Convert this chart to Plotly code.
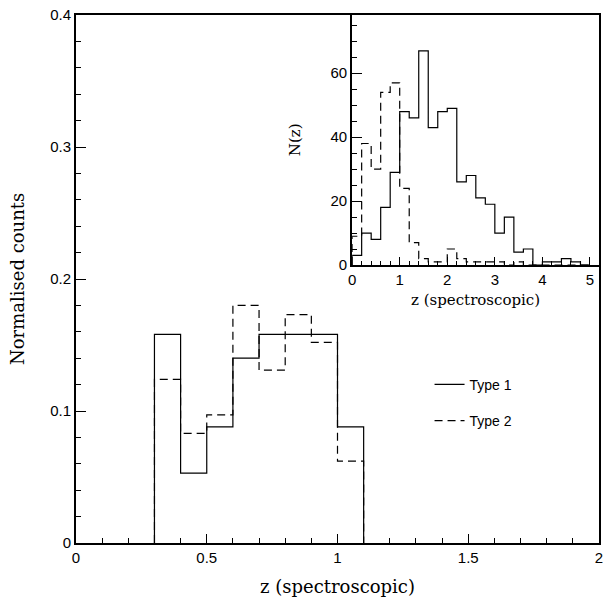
import numpy as np
import plotly.graph_objects as go

# ---------------- data ----------------
# main panel: normalised counts in bins of 0.1 from 0.3 to 1.1
main_edges = [0.3, 0.4, 0.5, 0.6, 0.7, 0.8, 0.9, 1.0, 1.1]
main_type1 = [0.158, 0.053, 0.088, 0.140, 0.158, 0.158, 0.158, 0.088]
main_type2 = [0.124, 0.083, 0.097, 0.180, 0.131, 0.173, 0.152, 0.062]

# inset: N(z) in bins of 0.2 from 0 to 5
inset_edges = [round(0.2 * i, 1) for i in range(26)]
inset_type1 = [3, 10, 8, 18, 29, 48, 46, 67, 43, 48, 49, 26, 28, 21, 19,
               10, 15, 4, 5, 0, 1, 1, 2, 1, 0]
inset_type2 = [9, 38, 30, 54, 57, 24, 7, 2, 1, 1, 5, 2, 1, 1, 1,
               1, 0, 1, 0, 0, 0, 0, 0, 0, 0]

legend_names = ["Type 1", "Type 2"]
x_title = "z (spectroscopic)"
y_title = "Normalised counts"
inset_y_title = "N(z)"


def steps(edges, vals):
    xs, ys = [edges[0]], [0]
    for i, v in enumerate(vals):
        xs += [edges[i], edges[i + 1]]
        ys += [v, v]
    xs.append(edges[-1])
    ys.append(0)
    return xs, ys


SANS = "Liberation Sans"
SERIF = "DejaVu Serif"
DASH = "8px,5px"

fig = go.Figure()

# main histograms
for vals, name, dash in [(main_type1, legend_names[0], "solid"),
                         (main_type2, legend_names[1], DASH)]:
    xs, ys = steps(main_edges, vals)
    fig.add_trace(go.Scatter(x=xs, y=ys, mode="lines", name=name,
                             legendgroup=name,
                             line=dict(color="black", width=1.2, dash=dash),
                             hoverinfo="skip"))

# inset histograms
for vals, name, dash in [(inset_type1, legend_names[0], "solid"),
                         (inset_type2, legend_names[1], DASH)]:
    xs, ys = steps(inset_edges, vals)
    fig.add_trace(go.Scatter(x=xs, y=ys, mode="lines", name=name,
                             showlegend=False, xaxis="x2", yaxis="y2",
                             line=dict(color="black", width=1.2, dash=dash),
                             hoverinfo="skip"))

axis_common = dict(showgrid=False, zeroline=False, showline=True,
                   linecolor="black", linewidth=2, mirror=True,
                   ticks="inside", tickcolor="black", tickwidth=1,
                   tickfont=dict(family=SANS, size=15, color="black"))

fig.update_layout(
    width=608, height=597,
    margin=dict(l=76, r=5, t=15, b=54),
    paper_bgcolor="white", plot_bgcolor="white",
    xaxis=dict(range=[0, 2], tick0=0, dtick=0.5, ticklen=9,
               minor=dict(dtick=0.1, ticks="inside", ticklen=5,
                          tickcolor="black", tickwidth=1),
               **axis_common),
    yaxis=dict(range=[0, 0.4], tick0=0, dtick=0.1, ticklen=10,
               minor=dict(dtick=0.02, ticks="inside", ticklen=5,
                          tickcolor="black", tickwidth=1),
               **axis_common),
    xaxis2=dict(domain=[0.528, 1.0], anchor="y2", range=[0, 5.19],
                tick0=0, dtick=1, ticklen=8,
                minor=dict(dtick=0.2, ticks="inside", ticklen=4,
                           tickcolor="black", tickwidth=1),
                **axis_common),
    yaxis2=dict(domain=[0.5265, 1.0], anchor="x2", range=[0, 78.2],
                tick0=0, dtick=20, ticklen=10,
                minor=dict(dtick=5, ticks="inside", ticklen=5,
                           tickcolor="black", tickwidth=1),
                **axis_common),
    showlegend=True,
    legend=dict(x=0.676, y=0.33, xanchor="left", yanchor="top",
                bgcolor="rgba(0,0,0,0)", borderwidth=0,
                tracegroupgap=15,
                font=dict(family=SANS, size=14, color="black")),
    annotations=[
        dict(text=x_title, xref="paper", yref="paper", x=0.5, y=0,
             xanchor="center", yanchor="middle", yshift=-43,
             showarrow=False, font=dict(family=SERIF, size=18, color="black")),
        dict(text=y_title, xref="paper", yref="paper", x=0, y=0.5,
             xanchor="center", yanchor="middle", xshift=-59, textangle=-90,
             showarrow=False, font=dict(family=SERIF, size=18, color="black")),
        dict(text=x_title, xref="x2 domain", yref="y2 domain", x=0.5, y=0,
             xanchor="center", yanchor="middle", yshift=-35,
             showarrow=False, font=dict(family=SERIF, size=15, color="black")),
        dict(text=inset_y_title, xref="x2 domain", yref="y2 domain", x=0, y=0.5,
             xanchor="center", yanchor="middle", xshift=-57, textangle=-90,
             showarrow=False, font=dict(family=SERIF, size=15, color="black")),
    ],
)

fig.write_html("out.html")
